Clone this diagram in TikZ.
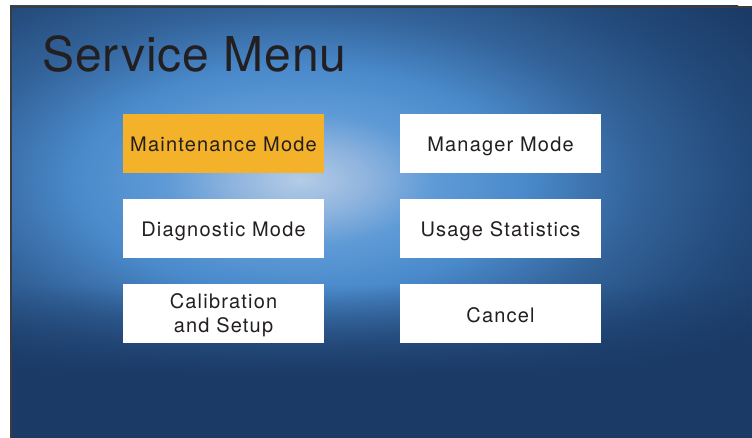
\documentclass[tikz,border=0pt]{standalone}
\usepackage{fontspec}
\setmainfont{TeX Gyre Heros}
\newfontfamily\headfont[LetterSpace=2]{TeX Gyre Heros}
\newfontfamily\btnfont[LetterSpace=6]{TeX Gyre Heros}
\usetikzlibrary{fadings}
\definecolor{ink}{HTML}{231F20}
\definecolor{amber}{HTML}{F3B229}
\definecolor{navy}{HTML}{1B3A66}
\definecolor{framegray}{HTML}{3C3C3C}
\definecolor{glowA}{HTML}{B4CCE6}
\definecolor{glowB}{HTML}{8FB4DE}
\definecolor{glowC}{HTML}{5E9AD6}
\definecolor{glowD}{HTML}{4A8ACB}
\definecolor{glowE}{HTML}{33639A}
\definecolor{glowF}{HTML}{234A7A}
\pgfdeclareradialshading{screenglow}{\pgfpoint{0bp}{0bp}}{color(0bp)=(glowA); color(3bp)=(glowB); color(6bp)=(glowC); color(10bp)=(glowD); color(15bp)=(glowE); color(20bp)=(glowF); color(25bp)=(navy); color(50bp)=(navy)}
\tikzset{
	menubtn/.style={fill=white, minimum width=201pt, minimum height=58.5pt, inner sep=0pt, text height=17pt, text depth=0pt, align=center, text=ink, font=\btnfont\fontsize{20}{24}\selectfont},
	chosen/.style={menubtn, fill=amber},
	heading/.style={inner sep=0pt, text=ink, font=\headfont\fontsize{48}{56}\selectfont}
}
\begin{document}
\begin{tikzpicture}[x=1pt,y=-1pt]
	\useasboundingbox (0,0) rectangle (752,438);
	\begin{scope}
		\clip (10,6) rectangle (752,438);
		\fill[navy] (10,6) rectangle (752,438);
		\shade[shading=screenglow] (300,180) ellipse [x radius=560, y radius=280];
		\fill[navy, path fading=north] (10,285) rectangle (752,378);
		\fill[navy] (10,378) rectangle (752,438);
	\end{scope}
	\draw[framegray, line width=2pt] (11,438) -- (11,7) -- (752,7);
	\node[heading, anchor=base west] (title) at (42,71.7) {Service Menu};
	\node[chosen] (maint) at (223.5,143.5) {Maintenance Mode};
	\node[menubtn] (mgr) at (500.5,143.5) {Manager Mode};
	\node[menubtn] (diag) at (223.5,228.5) {Diagnostic Mode};
	\node[menubtn] (usage) at (500.5,228.5) {Usage Statistics};
	\node[menubtn, text height={}, text depth={}] (calib) at (223.5,313.5) {\rule{0pt}{18pt}Calibration\\and Setup};
	\node[menubtn] (cancel) at (500.5,313.5) {Cancel};
\end{tikzpicture}
\end{document}
